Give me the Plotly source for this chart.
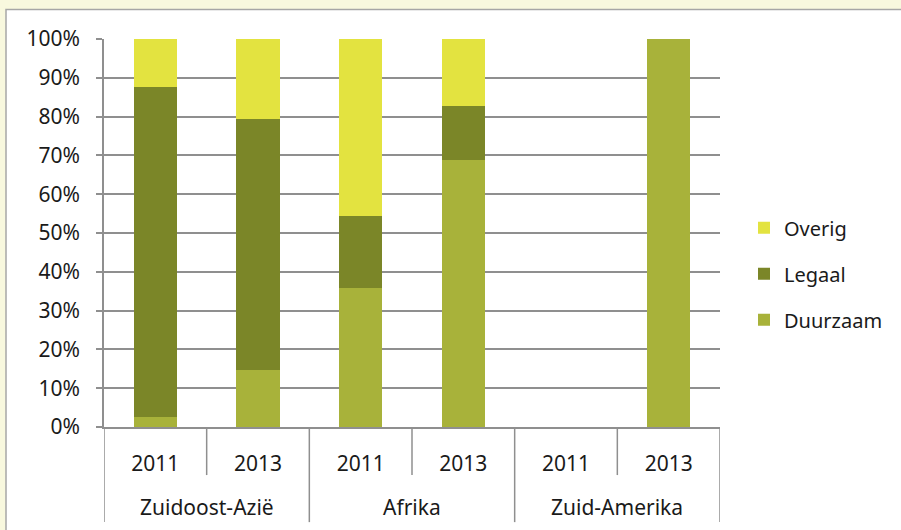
import plotly.graph_objects as go

groups = ["Zuidoost-Azië", "Afrika", "Zuid-Amerika"]
categories = ["ZOA-2011", "ZOA-2013", "AF-2011", "AF-2013", "ZA-2011", "ZA-2013"]
years = ["2011", "2013", "2011", "2013", "2011", "2013"]
duurzaam = [2.6, 14.7, 35.9, 68.7, 0, 100]
legaal = [85.0, 64.6, 18.6, 14.0, 0, 0]
overig = [12.4, 20.7, 45.5, 17.3, 0, 0]
yticks = [0, 10, 20, 30, 40, 50, 60, 70, 80, 90, 100]
ytick_labels = [f"{v}%" for v in yticks]

series = [("Duurzaam", duurzaam, "#a8b23a", 3),
          ("Legaal", legaal, "#7b8628", 2),
          ("Overig", overig, "#e3e340", 1)]

FONT = "Noto Sans"
GRID = "#8f8f8f"
BG = "#f8f8de"
PLOT_H = 387.5

fig = go.Figure()
for name, vals, col, rank in series:
    fig.add_trace(go.Bar(
        x=categories, y=vals, name=name, marker_color=col,
        marker_line_width=0, legendgroup=name, legendrank=rank,
    ))

shapes = [
    dict(type="rect", xref="paper", yref="paper", x0=(6 - 104) / 616, x1=2,
         y0=-1, y1=(427 - 10) / PLOT_H, fillcolor="white",
         line=dict(color="#a6a6a6", width=1.5), layer="below"),
]
# dividers below the category axis
for i in range(len(categories) + 1):
    boundary = i - 0.5
    is_group = i % 2 == 0
    shapes.append(dict(type="line", xref="x", yref="paper", x0=boundary, x1=boundary,
                       y0=0, y1=-(95 if is_group else 48) / PLOT_H,
                       line=dict(color=GRID, width=1.5)))

annotations = []
for g, name in enumerate(groups):
    annotations.append(dict(text=name, xref="x", yref="paper", x=2 * g + 0.5,
                            y=-80 / PLOT_H, yanchor="middle", showarrow=False,
                            font=dict(family=FONT, size=21, color="#1a1a1a")))

fig.update_layout(
    barmode="stack",
    bargap=0.58,
    width=901, height=530,
    margin=dict(l=104, r=181, t=39, b=103, pad=0, autoexpand=False),
    paper_bgcolor=BG,
    plot_bgcolor="white",
    font=dict(family=FONT, size=21, color="#1a1a1a"),
    showlegend=True,
    legend=dict(x=(744 - 104) / 616, y=(427 - 274) / PLOT_H, yanchor="middle",
                xanchor="left", traceorder="grouped", tracegroupgap=17,
                font=dict(size=20, family=FONT), itemwidth=30,
                bgcolor="rgba(0,0,0,0)"),
    shapes=shapes,
    annotations=annotations,
)
fig.update_yaxes(range=[0, 100], tickvals=yticks, ticktext=ytick_labels, showgrid=True,
                 gridcolor=GRID, gridwidth=1.5, showline=True, linecolor=GRID,
                 linewidth=1.5, ticks="outside", ticklen=6, tickcolor=GRID,
                 tickwidth=1.5, zeroline=False, tickfont=dict(size=21),
                 ticklabelstandoff=12)
fig.update_xaxes(showline=True, linecolor=GRID, linewidth=1.5,
                 tickvals=categories, ticktext=years, ticks="",
                 tickfont=dict(size=21), ticklabelstandoff=17,
                 range=[-0.5, len(categories) - 0.5])

fig.write_html("out.html",
               config={"displayModeBar": False},
               post_script=f"document.body.style.margin='0';document.body.style.background='{BG}';")
